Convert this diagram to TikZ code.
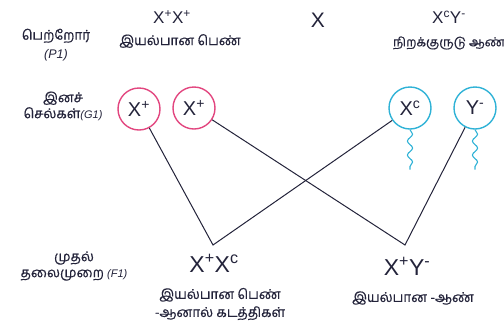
\documentclass[tikz,border=0pt]{standalone}
\usepackage{fontspec}
\setmainfont{Liberation Sans}
\newfontfamily\tamil[Script=Tamil, FakeBold=0.6]{Hind Madurai}
\usetikzlibrary{decorations.pathmorphing}
\newcommand{\up}[1]{\textsuperscript{#1}}
\newcommand{\gen}[2]{{\normalfont\itshape\fontsize{#1}{#1}\selectfont(#2)}}
\definecolor{eggpink}{HTML}{E2467F}
\definecolor{spermcyan}{HTML}{2FB2D6}
\definecolor{ink}{HTML}{23233A}

\tikzset{
  lbl/.style={font=\tamil\fontsize{13.5}{16}\selectfont, align=center, text=ink, inner sep=0pt},
  geno/.style={font=\fontsize{17}{19}\selectfont, text=ink, inner sep=0pt},
  child/.style={geno, font=\fontsize{23}{25}\selectfont},
  egg/.style={circle, draw=eggpink, line width=1.4pt, minimum size=42pt, inner sep=0pt,
    text=ink, font=\fontsize{20}{22}\selectfont},
  sperm/.style={egg, draw=spermcyan},
  tail/.style={spermcyan, line width=1.1pt, decorate,
    decoration={snake, amplitude=2.6pt, segment length=14pt}},
  cross/.style={ink, line width=1pt}
}

\begin{document}
\begin{tikzpicture}[x=1pt, y=-1pt]
\useasboundingbox (0,0) rectangle (504,325);

% P1
\node[lbl] (plabel) at (56,45) {பெற்றோர்\\[3pt]\gen{12.5}{P1}};
\node[geno] (mother) at (172,17) {X\up{+}X\up{+}};
\node[lbl] (mothertxt) at (180,41) {இயல்பான பெண்};
\node[geno, font=\fontsize{21}{23}\selectfont] (times) at (318,20) {X};
\node[geno] (father) at (449,17) {X\up{c}Y\up{-}};
\node[lbl, font=\tamil\fontsize{12.5}{15}\selectfont] (fathertxt) at (449,43) {நிறக்குருடு ஆண்};

% G1
\node[lbl] (glabel) at (63,106) {இனச்\\செல்கள்\gen{11}{G1}};
\node[egg] (ga) at (139,109) {X\up{+}};
\node[egg] (gb) at (194,108) {X\up{+}};
\node[sperm] (gc) at (410,108) {X\up{c}};
\node[sperm] (gd) at (475,108) {Y\up{-}};
\foreach \g in {gc,gd}
  \draw[tail] (\g.south) -- ++(0,40);

% F1
\node[lbl] (flabel) at (74,266) {முதல்\\தலைமுறை \gen{11}{F1}};
\node[child] (daughter) at (214,263) {X\up{+}X\up{c}};
\node[lbl] (daughtertxt) at (220,304) {இயல்பான பெண்\\[2pt]-ஆனால் கடத்திகள்};
\node[child] (son) at (407,266) {X\up{+}Y\up{-}};
\node[lbl] (sontxt) at (413,298) {இயல்பான -ஆண்};

\coordinate (m1) at (213,245);
\coordinate (m2) at (405,245);
\draw[cross] (ga) -- (m1) -- (gc);
\draw[cross] (gb) -- (m2) -- (gd);
\end{tikzpicture}
\end{document}
